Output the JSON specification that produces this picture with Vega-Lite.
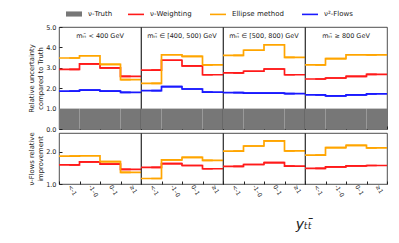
{
  "$schema": "https://vega.github.io/schema/vega-lite/v6.json",
  "padding": {"left": 28, "right": 5, "top": 5, "bottom": 5},
  "config": {
    "font": "DejaVu Sans",
    "view": {"stroke": "#222222", "strokeWidth": 0.8},
    "axis": {"labelFontSize": 6.5, "titleFontSize": 6.8, "titleFontWeight": "normal", "labelColor": "#222222", "titleColor": "#222222", "tickColor": "#222222", "domain": false, "grid": false, "tickSize": -3, "labelPadding": 6, "titlePadding": 2},
    "legend": {"orient": "top", "direction": "horizontal", "labelFontSize": 7, "labelColor": "#222222", "symbolSize": 256, "symbolStrokeWidth": 1.6, "columnPadding": 14, "labelOffset": 5, "offset": 6, "layout": {"top": {"anchor": "middle", "margin": 14}}},
    "text": {"font": "DejaVu Sans"}
  },
  "datasets": {
    "unc": [
      {"m": "mₜₜ̄ < 400 GeV", "b": "<-1", "s": "ν-Weighting", "v": 2.92},
      {"m": "mₜₜ̄ < 400 GeV", "b": "-1–0", "s": "ν-Weighting", "v": 3.19},
      {"m": "mₜₜ̄ < 400 GeV", "b": "0–1", "s": "ν-Weighting", "v": 3.0},
      {"m": "mₜₜ̄ < 400 GeV", "b": "≥1", "s": "ν-Weighting", "v": 2.58},
      {"m": "mₜₜ̄ < 400 GeV", "b": "<-1", "s": "Ellipse method", "v": 3.48},
      {"m": "mₜₜ̄ < 400 GeV", "b": "-1–0", "s": "Ellipse method", "v": 3.59},
      {"m": "mₜₜ̄ < 400 GeV", "b": "0–1", "s": "Ellipse method", "v": 3.17},
      {"m": "mₜₜ̄ < 400 GeV", "b": "≥1", "s": "Ellipse method", "v": 2.42},
      {"m": "mₜₜ̄ < 400 GeV", "b": "<-1", "s": "ν²-Flows", "v": 1.86},
      {"m": "mₜₜ̄ < 400 GeV", "b": "-1–0", "s": "ν²-Flows", "v": 1.91},
      {"m": "mₜₜ̄ < 400 GeV", "b": "0–1", "s": "ν²-Flows", "v": 1.86},
      {"m": "mₜₜ̄ < 400 GeV", "b": "≥1", "s": "ν²-Flows", "v": 1.8},
      {"m": "mₜₜ̄ ∈ [400, 500) GeV", "b": "<-1", "s": "ν-Weighting", "v": 2.89},
      {"m": "mₜₜ̄ ∈ [400, 500) GeV", "b": "-1–0", "s": "ν-Weighting", "v": 3.37},
      {"m": "mₜₜ̄ ∈ [400, 500) GeV", "b": "0–1", "s": "ν-Weighting", "v": 3.09},
      {"m": "mₜₜ̄ ∈ [400, 500) GeV", "b": "≥1", "s": "ν-Weighting", "v": 2.66},
      {"m": "mₜₜ̄ ∈ [400, 500) GeV", "b": "<-1", "s": "Ellipse method", "v": 2.24},
      {"m": "mₜₜ̄ ∈ [400, 500) GeV", "b": "-1–0", "s": "Ellipse method", "v": 3.64},
      {"m": "mₜₜ̄ ∈ [400, 500) GeV", "b": "0–1", "s": "Ellipse method", "v": 3.56},
      {"m": "mₜₜ̄ ∈ [400, 500) GeV", "b": "≥1", "s": "Ellipse method", "v": 3.14},
      {"m": "mₜₜ̄ ∈ [400, 500) GeV", "b": "<-1", "s": "ν²-Flows", "v": 1.88},
      {"m": "mₜₜ̄ ∈ [400, 500) GeV", "b": "-1–0", "s": "ν²-Flows", "v": 2.08},
      {"m": "mₜₜ̄ ∈ [400, 500) GeV", "b": "0–1", "s": "ν²-Flows", "v": 1.96},
      {"m": "mₜₜ̄ ∈ [400, 500) GeV", "b": "≥1", "s": "ν²-Flows", "v": 1.81},
      {"m": "mₜₜ̄ ∈ [500, 800) GeV", "b": "<-1", "s": "ν-Weighting", "v": 2.75},
      {"m": "mₜₜ̄ ∈ [500, 800) GeV", "b": "-1–0", "s": "ν-Weighting", "v": 2.83},
      {"m": "mₜₜ̄ ∈ [500, 800) GeV", "b": "0–1", "s": "ν-Weighting", "v": 2.94},
      {"m": "mₜₜ̄ ∈ [500, 800) GeV", "b": "≥1", "s": "ν-Weighting", "v": 2.66},
      {"m": "mₜₜ̄ ∈ [500, 800) GeV", "b": "<-1", "s": "Ellipse method", "v": 3.61},
      {"m": "mₜₜ̄ ∈ [500, 800) GeV", "b": "-1–0", "s": "Ellipse method", "v": 3.86},
      {"m": "mₜₜ̄ ∈ [500, 800) GeV", "b": "0–1", "s": "Ellipse method", "v": 4.13},
      {"m": "mₜₜ̄ ∈ [500, 800) GeV", "b": "≥1", "s": "Ellipse method", "v": 3.51},
      {"m": "mₜₜ̄ ∈ [500, 800) GeV", "b": "<-1", "s": "ν²-Flows", "v": 1.78},
      {"m": "mₜₜ̄ ∈ [500, 800) GeV", "b": "-1–0", "s": "ν²-Flows", "v": 1.76},
      {"m": "mₜₜ̄ ∈ [500, 800) GeV", "b": "0–1", "s": "ν²-Flows", "v": 1.76},
      {"m": "mₜₜ̄ ∈ [500, 800) GeV", "b": "≥1", "s": "ν²-Flows", "v": 1.73},
      {"m": "mₜₜ̄ ≥ 800 GeV", "b": "<-1", "s": "ν-Weighting", "v": 2.45},
      {"m": "mₜₜ̄ ≥ 800 GeV", "b": "-1–0", "s": "ν-Weighting", "v": 2.5},
      {"m": "mₜₜ̄ ≥ 800 GeV", "b": "0–1", "s": "ν-Weighting", "v": 2.58},
      {"m": "mₜₜ̄ ≥ 800 GeV", "b": "≥1", "s": "ν-Weighting", "v": 2.68},
      {"m": "mₜₜ̄ ≥ 800 GeV", "b": "<-1", "s": "Ellipse method", "v": 3.14},
      {"m": "mₜₜ̄ ≥ 800 GeV", "b": "-1–0", "s": "Ellipse method", "v": 3.45},
      {"m": "mₜₜ̄ ≥ 800 GeV", "b": "0–1", "s": "Ellipse method", "v": 3.64},
      {"m": "mₜₜ̄ ≥ 800 GeV", "b": "≥1", "s": "Ellipse method", "v": 3.63},
      {"m": "mₜₜ̄ ≥ 800 GeV", "b": "<-1", "s": "ν²-Flows", "v": 1.67},
      {"m": "mₜₜ̄ ≥ 800 GeV", "b": "-1–0", "s": "ν²-Flows", "v": 1.62},
      {"m": "mₜₜ̄ ≥ 800 GeV", "b": "0–1", "s": "ν²-Flows", "v": 1.67},
      {"m": "mₜₜ̄ ≥ 800 GeV", "b": "≥1", "s": "ν²-Flows", "v": 1.72},
      {"m": "mₜₜ̄ < 400 GeV", "b": "<-1", "s": "ν-Truth", "v": 1},
      {"m": "mₜₜ̄ < 400 GeV", "b": "-1–0", "s": "ν-Truth", "v": 1},
      {"m": "mₜₜ̄ < 400 GeV", "b": "0–1", "s": "ν-Truth", "v": 1},
      {"m": "mₜₜ̄ < 400 GeV", "b": "≥1", "s": "ν-Truth", "v": 1},
      {"m": "mₜₜ̄ ∈ [400, 500) GeV", "b": "<-1", "s": "ν-Truth", "v": 1},
      {"m": "mₜₜ̄ ∈ [400, 500) GeV", "b": "-1–0", "s": "ν-Truth", "v": 1},
      {"m": "mₜₜ̄ ∈ [400, 500) GeV", "b": "0–1", "s": "ν-Truth", "v": 1},
      {"m": "mₜₜ̄ ∈ [400, 500) GeV", "b": "≥1", "s": "ν-Truth", "v": 1},
      {"m": "mₜₜ̄ ∈ [500, 800) GeV", "b": "<-1", "s": "ν-Truth", "v": 1},
      {"m": "mₜₜ̄ ∈ [500, 800) GeV", "b": "-1–0", "s": "ν-Truth", "v": 1},
      {"m": "mₜₜ̄ ∈ [500, 800) GeV", "b": "0–1", "s": "ν-Truth", "v": 1},
      {"m": "mₜₜ̄ ∈ [500, 800) GeV", "b": "≥1", "s": "ν-Truth", "v": 1},
      {"m": "mₜₜ̄ ≥ 800 GeV", "b": "<-1", "s": "ν-Truth", "v": 1},
      {"m": "mₜₜ̄ ≥ 800 GeV", "b": "-1–0", "s": "ν-Truth", "v": 1},
      {"m": "mₜₜ̄ ≥ 800 GeV", "b": "0–1", "s": "ν-Truth", "v": 1},
      {"m": "mₜₜ̄ ≥ 800 GeV", "b": "≥1", "s": "ν-Truth", "v": 1}
    ],
    "imp": [
      {"m": "mₜₜ̄ < 400 GeV", "b": "<-1", "s": "ν-Weighting", "v": 1.59},
      {"m": "mₜₜ̄ < 400 GeV", "b": "-1–0", "s": "ν-Weighting", "v": 1.68},
      {"m": "mₜₜ̄ < 400 GeV", "b": "0–1", "s": "ν-Weighting", "v": 1.61},
      {"m": "mₜₜ̄ < 400 GeV", "b": "≥1", "s": "ν-Weighting", "v": 1.45},
      {"m": "mₜₜ̄ < 400 GeV", "b": "<-1", "s": "Ellipse method", "v": 1.86},
      {"m": "mₜₜ̄ < 400 GeV", "b": "-1–0", "s": "Ellipse method", "v": 1.87},
      {"m": "mₜₜ̄ < 400 GeV", "b": "0–1", "s": "Ellipse method", "v": 1.69},
      {"m": "mₜₜ̄ < 400 GeV", "b": "≥1", "s": "Ellipse method", "v": 1.36},
      {"m": "mₜₜ̄ ∈ [400, 500) GeV", "b": "<-1", "s": "ν-Weighting", "v": 1.51},
      {"m": "mₜₜ̄ ∈ [400, 500) GeV", "b": "-1–0", "s": "ν-Weighting", "v": 1.63},
      {"m": "mₜₜ̄ ∈ [400, 500) GeV", "b": "0–1", "s": "ν-Weighting", "v": 1.57},
      {"m": "mₜₜ̄ ∈ [400, 500) GeV", "b": "≥1", "s": "ν-Weighting", "v": 1.47},
      {"m": "mₜₜ̄ ∈ [400, 500) GeV", "b": "<-1", "s": "Ellipse method", "v": 1.17},
      {"m": "mₜₜ̄ ∈ [400, 500) GeV", "b": "-1–0", "s": "Ellipse method", "v": 1.74},
      {"m": "mₜₜ̄ ∈ [400, 500) GeV", "b": "0–1", "s": "Ellipse method", "v": 1.82},
      {"m": "mₜₜ̄ ∈ [400, 500) GeV", "b": "≥1", "s": "Ellipse method", "v": 1.73},
      {"m": "mₜₜ̄ ∈ [500, 800) GeV", "b": "<-1", "s": "ν-Weighting", "v": 1.54},
      {"m": "mₜₜ̄ ∈ [500, 800) GeV", "b": "-1–0", "s": "ν-Weighting", "v": 1.6},
      {"m": "mₜₜ̄ ∈ [500, 800) GeV", "b": "0–1", "s": "ν-Weighting", "v": 1.66},
      {"m": "mₜₜ̄ ∈ [500, 800) GeV", "b": "≥1", "s": "ν-Weighting", "v": 1.55},
      {"m": "mₜₜ̄ ∈ [500, 800) GeV", "b": "<-1", "s": "Ellipse method", "v": 2.01},
      {"m": "mₜₜ̄ ∈ [500, 800) GeV", "b": "-1–0", "s": "Ellipse method", "v": 2.17},
      {"m": "mₜₜ̄ ∈ [500, 800) GeV", "b": "0–1", "s": "Ellipse method", "v": 2.33},
      {"m": "mₜₜ̄ ∈ [500, 800) GeV", "b": "≥1", "s": "Ellipse method", "v": 2.02},
      {"m": "mₜₜ̄ ≥ 800 GeV", "b": "<-1", "s": "ν-Weighting", "v": 1.48},
      {"m": "mₜₜ̄ ≥ 800 GeV", "b": "-1–0", "s": "ν-Weighting", "v": 1.53},
      {"m": "mₜₜ̄ ≥ 800 GeV", "b": "0–1", "s": "ν-Weighting", "v": 1.56},
      {"m": "mₜₜ̄ ≥ 800 GeV", "b": "≥1", "s": "ν-Weighting", "v": 1.57},
      {"m": "mₜₜ̄ ≥ 800 GeV", "b": "<-1", "s": "Ellipse method", "v": 1.89},
      {"m": "mₜₜ̄ ≥ 800 GeV", "b": "-1–0", "s": "Ellipse method", "v": 2.12},
      {"m": "mₜₜ̄ ≥ 800 GeV", "b": "0–1", "s": "Ellipse method", "v": 2.19},
      {"m": "mₜₜ̄ ≥ 800 GeV", "b": "≥1", "s": "Ellipse method", "v": 2.11}
    ]
  },
  "title": {"text": "yₜₜ̄", "orient": "bottom", "anchor": "end", "fontSize": 14, "fontStyle": "italic", "fontWeight": "normal", "color": "#222222", "dx": -76, "offset": 20},
  "spacing": -3,
  "vconcat": [
    {
      "data": {"name": "unc"},
      "facet": {"column": {"field": "m", "type": "nominal", "sort": ["mₜₜ̄ < 400 GeV", "mₜₜ̄ ∈ [400, 500) GeV", "mₜₜ̄ ∈ [500, 800) GeV", "mₜₜ̄ ≥ 800 GeV"], "header": {"title": null, "labels": false}}},
      "spacing": 0,
      "bounds": "flush",
      "spec": {
        "width": 82,
        "height": 102,
        "encoding": {
          "x": {"field": "b", "type": "ordinal", "sort": ["<-1", "-1–0", "0–1", "≥1"], "scale": {"type": "band", "paddingInner": 0, "paddingOuter": 0}, "axis": {"title": null, "labels": false, "tickBand": "extent", "labelPadding": 0}},
          "y": {"field": "v", "type": "quantitative", "scale": {"domain": [0, 5], "nice": false}, "axis": {"title": ["Relative uncertainty", "compared to Truth"], "values": [0, 1, 2, 3, 4, 5], "format": ".1f"}}
        },
        "layer": [
          {
            "transform": [{"filter": "datum.s == 'ν-Truth'"}],
            "mark": {"type": "bar", "fill": "#777777"},
            "encoding": {"fill": {"field": "s", "type": "nominal", "scale": {"domain": ["ν-Truth"], "range": ["#777777"]}, "legend": {"title": null, "symbolType": "M-1,-0.32H1V0.32H-1Z"}}}
          },
          {
            "transform": [{"filter": "datum.s != 'ν-Truth'"}],
            "mark": {"type": "bar", "fill": null, "strokeWidth": 1.7},
            "encoding": {"y2": {"field": "v"}, "stroke": {"field": "s", "type": "nominal", "scale": {"domain": ["ν-Weighting", "Ellipse method", "ν²-Flows"], "range": ["#ff1a1a", "#ffa500", "#1a1aff"]}, "legend": {"title": null, "symbolType": "stroke"}}}
          },
          {
            "transform": [{"filter": "datum.s != 'ν-Truth'"}],
            "mark": {"type": "line", "interpolate": "step", "strokeWidth": 1.7},
            "encoding": {"stroke": {"field": "s", "type": "nominal"}}
          },
          {
            "transform": [{"filter": "datum.s == 'ν-Truth' && datum.b == '0–1'"}],
            "mark": {"type": "text", "fontSize": 6.5, "color": "#222222", "align": "center", "baseline": "middle"},
            "encoding": {"x": {"field": "b", "type": "ordinal", "bandPosition": 0, "sort": ["<-1", "-1–0", "0–1", "≥1"]}, "y": {"datum": 4.56}, "text": {"field": "m"}}
          }
        ]
      }
    },
    {
      "data": {"name": "imp"},
      "facet": {"column": {"field": "m", "type": "nominal", "sort": ["mₜₜ̄ < 400 GeV", "mₜₜ̄ ∈ [400, 500) GeV", "mₜₜ̄ ∈ [500, 800) GeV", "mₜₜ̄ ≥ 800 GeV"], "header": {"title": null, "labels": false}}},
      "spacing": 0,
      "bounds": "flush",
      "spec": {
        "width": 82,
        "height": 51,
        "encoding": {
          "x": {"field": "b", "type": "ordinal", "sort": ["<-1", "-1–0", "0–1", "≥1"], "scale": {"type": "band", "paddingInner": 0, "paddingOuter": 0}, "axis": {"title": null, "tickBand": "extent", "labelAngle": 60, "labelAlign": "left", "labelBaseline": "middle", "labelFontSize": 6, "labelPadding": 4}},
          "y": {"field": "v", "type": "quantitative", "scale": {"domain": [1, 2.57], "nice": false, "zero": false}, "axis": {"title": ["ν-Flows relative", "improvement"], "values": [1, 2], "format": ".1f"}}
        },
        "layer": [
          {
            "mark": {"type": "bar", "fill": null, "strokeWidth": 1.7},
            "encoding": {"y2": {"field": "v"}, "stroke": {"field": "s", "type": "nominal"}}
          },
          {
            "mark": {"type": "line", "interpolate": "step", "strokeWidth": 1.7},
            "encoding": {"stroke": {"field": "s", "type": "nominal"}}
          }
        ]
      }
    }
  ]
}
